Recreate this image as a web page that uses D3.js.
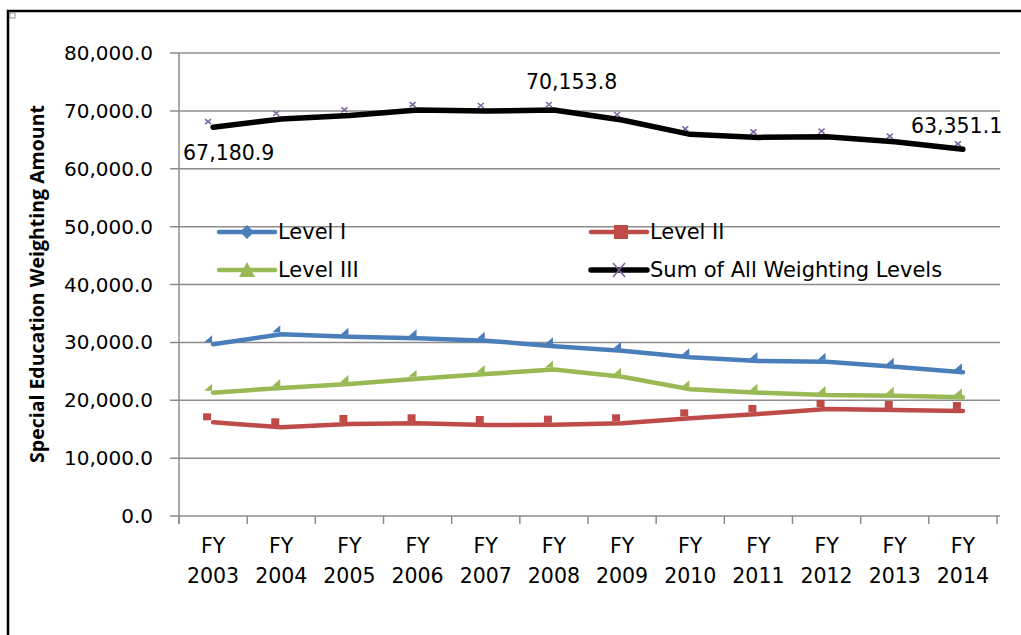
<!DOCTYPE html>
<html>
<head>
<meta charset="utf-8">
<script src="https://cdn.jsdelivr.net/npm/d3@7"></script>
<style>
  body { margin: 0; background: #fff; }
  text { font-family: "DejaVu Sans", sans-serif; fill: #000; }
</style>
</head>
<body>
<div id="chart"></div>
<script>
// chart data
const years = ['2003', '2004', '2005', '2006', '2007', '2008', '2009', '2010', '2011', '2012', '2013', '2014'];
const levelI = [29670, 31400, 30980, 30700, 30300, 29350, 28560, 27420, 26780, 26670, 25800, 24830];
const levelII = [16190, 15330, 15900, 16020, 15720, 15780, 16020, 16880, 17630, 18490, 18320, 18140];
const levelIII = [21310, 22120, 22810, 23730, 24540, 25300, 24070, 21890, 21310, 20910, 20790, 20510];
const sumAll = [67180.9, 68600, 69220, 70140, 69970, 70153.8, 68420, 65940, 65420, 65540, 64680, 63351.1];
const yTicks = [0, 10000, 20000, 30000, 40000, 50000, 60000, 70000, 80000];
const labelled = ['2003', '2008', '2014'];

const width = 1021, height = 635;
const plotL = 179, plotR = 997, plotT = 53, plotB = 516;
const grey = '#8c8c8c';

const svg = d3.select('#chart').append('svg')
  .attr('width', width)
  .attr('height', height);

// outer frame
svg.append('rect')
  .attr('x', 8).attr('y', 11)
  .attr('width', 1030).attr('height', 640)
  .attr('fill', 'none').attr('stroke', '#000').attr('stroke-width', 2.5);
svg.append('rect')
  .attr('x', 10).attr('y', 13).attr('width', 5).attr('height', 5)
  .attr('fill', '#fff').attr('stroke', '#999').attr('stroke-width', 1);

const x = d3.scalePoint().domain(years).range([plotL, plotR]).padding(0.5);
const step = x.step();
const y = d3.scaleLinear().domain([0, 80000]).range([plotB, plotT]);

// gridlines + y labels
svg.selectAll('.grid').data(yTicks).join('line')
  .attr('x1', plotL - 9).attr('x2', plotR + 3)
  .attr('y1', d => y(d)).attr('y2', d => y(d))
  .attr('stroke', grey).attr('stroke-width', 1.5);

svg.selectAll('.ylab').data(yTicks).join('text')
  .attr('x', 153).attr('y', d => y(d) + 7)
  .attr('text-anchor', 'end')
  .style('font-size', '20px')
  .text(d => d3.format(',.1f')(d));

// y axis line and x ticks
svg.append('line')
  .attr('x1', plotL).attr('x2', plotL).attr('y1', plotT).attr('y2', plotB + 8)
  .attr('stroke', grey).attr('stroke-width', 1.5);
svg.selectAll('.xtick').data(d3.range(years.length + 1)).join('line')
  .attr('x1', i => plotL + i * step).attr('x2', i => plotL + i * step)
  .attr('y1', plotB).attr('y2', plotB + 8)
  .attr('stroke', grey).attr('stroke-width', 1.5);

const xl = svg.selectAll('.xlab').data(years).join('text')
  .attr('text-anchor', 'middle')
  .style('font-size', '20.5px');
xl.append('tspan').attr('x', d => x(d)).attr('y', 553).text('FY');
xl.append('tspan').attr('x', d => x(d)).attr('y', 583).text(d => d);

// y axis title
svg.append('text')
  .attr('transform', 'translate(44,284) rotate(-90)')
  .attr('text-anchor', 'middle')
  .style('font-family', '"Open Sans", sans-serif')
  .style('font-weight', 'bold')
  .style('font-size', '19.5px')
  .text('Special Education Weighting Amount');

const series = [
  { name: 'Level I', values: levelI, color: '#4a7ebb', marker: 'tri', width: 4.5 },
  { name: 'Level II', values: levelII, color: '#be4b48', marker: 'square', width: 4.5 },
  { name: 'Level III', values: levelIII, color: '#98b954', marker: 'tri', width: 4.5 },
  { name: 'Sum of All Weighting Levels', values: sumAll, color: '#000', marker: 'cross', width: 5.5 }
];

const line = d3.line().x(d => x(d.year)).y(d => y(d.v));

// markers sit up-left of the line, as in the original export
function drawMarker(g, type, color) {
  if (type === 'tri') {
    g.append('path').attr('d', 'M-1,-9 L-1,-2 L-9,-2 Z').attr('fill', color);
  } else if (type === 'square') {
    g.append('rect').attr('x', -10).attr('y', -9).attr('width', 8).attr('height', 7).attr('fill', color);
  } else {
    g.append('path').attr('d', 'M-8,-8 L-2,-3 M-2,-8 L-8,-3')
      .attr('stroke', '#7d60a0').attr('stroke-width', 1.5);
  }
}

series.forEach(s => {
  const pts = years.map((yr, i) => ({ year: yr, v: s.values[i] }));
  pts.forEach(p => {
    const g = svg.append('g').attr('transform', `translate(${x(p.year)},${y(p.v)})`);
    drawMarker(g, s.marker, s.color);
  });
  svg.append('path')
    .datum(pts)
    .attr('d', line)
    .attr('fill', 'none')
    .attr('stroke', s.color)
    .attr('stroke-width', s.width)
    .attr('stroke-linecap', 'round')
    .attr('stroke-linejoin', 'round');
});

// data labels on the sum line
const labelPos = { '2003': [-30, 33], '2008': [-28, -21], '2014': [-52, -16] };
labelled.forEach(yr => {
  const i = years.indexOf(yr);
  svg.append('text')
    .attr('x', x(yr) + labelPos[yr][0])
    .attr('y', y(sumAll[i]) + labelPos[yr][1])
    .style('font-size', '20.5px')
    .text(d3.format(',.1f')(sumAll[i]));
});

// legend
const legend = [
  { s: series[0], lx: 219, ly: 232 },
  { s: series[1], lx: 591, ly: 232 },
  { s: series[2], lx: 219, ly: 270 },
  { s: series[3], lx: 591, ly: 270 }
];
legend.forEach(l => {
  const g = svg.append('g').attr('transform', `translate(${l.lx},${l.ly})`);
  g.append('line').attr('x1', 0).attr('x2', 56).attr('y1', 0).attr('y2', 0)
    .attr('stroke', l.s.color).attr('stroke-width', l.s.width).attr('stroke-linecap', 'round');
  if (l.s.name === 'Level I') {
    g.append('path').attr('d', 'M28,-7 L35,0 L28,7 L21,0 Z').attr('fill', l.s.color);
  } else if (l.s.name === 'Level II') {
    g.append('rect').attr('x', 23).attr('y', -7).attr('width', 14).attr('height', 14).attr('fill', l.s.color);
  } else if (l.s.name === 'Level III') {
    g.append('path').attr('d', 'M28,-8 L36,7 L20,7 Z').attr('fill', l.s.color);
  } else {
    g.append('path').attr('d', 'M22,-7 L34,7 M34,-7 L22,7').attr('stroke', '#7d60a0').attr('stroke-width', 1.5);
  }
  g.append('text').attr('x', 59).attr('y', 7).style('font-size', '21px').text(l.s.name);
});
</script>
</body>
</html>
